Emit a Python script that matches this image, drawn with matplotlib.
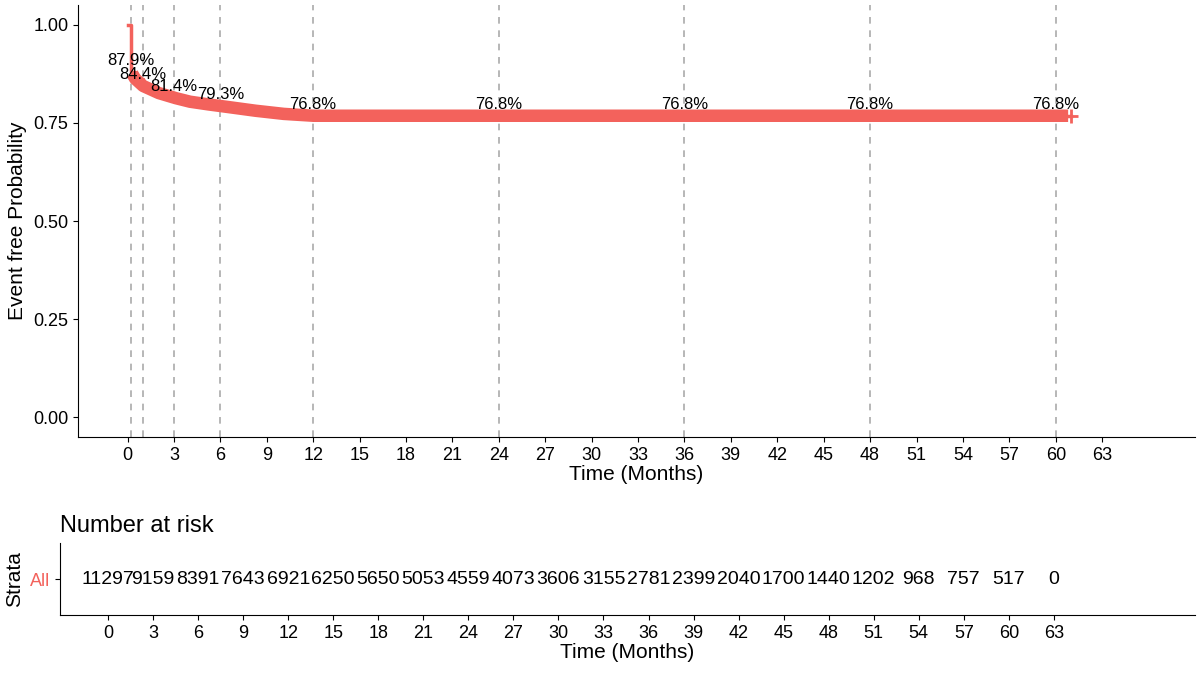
import matplotlib
matplotlib.use("Agg")
import matplotlib.pyplot as plt
import numpy as np

times = [0, 0.25, 0.5, 1, 1.5, 2, 3, 4, 5, 6, 8, 10, 12, 24, 36, 48, 60, 61]
surv = [1.0, 0.879, 0.862, 0.844, 0.835, 0.826, 0.814, 0.804, 0.798, 0.793, 0.782, 0.773, 0.768, 0.768, 0.768, 0.768, 0.768, 0.768]
label_times = [0.25, 1, 3, 6, 12, 24, 36, 48, 60]
label_vals = ["87.9%", "84.4%", "81.4%", "79.3%", "76.8%", "76.8%", "76.8%", "76.8%", "76.8%"]
label_y = [0.879, 0.844, 0.814, 0.793, 0.768, 0.768, 0.768, 0.768, 0.768]
risk_times = list(range(0, 64, 3))
risk_counts = [11297, 9159, 8391, 7643, 6921, 6250, 5650, 5053, 4559, 4073, 3606,
               3155, 2781, 2399, 2040, 1700, 1440, 1202, 968, 757, 517, 0]

red = "#F3625C"
plt.rcParams['font.family'] = ['Liberation Sans', 'DejaVu Sans']
fig = plt.figure(figsize=(12, 6.74), dpi=100)
W, H = 1200, 674
ax = fig.add_axes([78/W, 1-437/H, (1195-78)/W, (437-5)/H])
tt = np.array(times); ss = np.array(surv)
ax.step(tt, ss, where="post", color=red, lw=2.5)
ct = np.linspace(0.3, 60.8, 600)
cs = np.interp(ct, tt, ss)
ax.plot(ct, cs, color=red, lw=9, solid_capstyle="butt")
ax.plot([61], [0.768], marker="+", color=red, ms=10, mew=2)
for t in label_times:
    ax.axvline(t, color="#AAAAAA", ls=(0, (4, 4)), lw=1.2, zorder=0)
for t, s, y in zip(label_times, label_vals, label_y):
    ax.text(t, y + 0.01, s, ha="center", va="bottom", fontsize=12)
ax.set_ylim(-0.05, 1.05)
ax.set_xlim(-3.2, 69)
ax.set_xticks(risk_times)
ax.set_yticks([0, 0.25, 0.5, 0.75, 1.0])
ax.set_yticklabels(["0.00", "0.25", "0.50", "0.75", "1.00"])
ax.set_xlabel("Time (Months)", fontsize=15, labelpad=1)
ax.set_ylabel("Event free Probability", fontsize=15)
ax.tick_params(labelsize=13)
for sp in ["top", "right"]:
    ax.spines[sp].set_visible(False)

ax2 = fig.add_axes([60/W, 1-615/H, (1195-60)/W, (615-543)/H])
for t, c in zip(risk_times, risk_counts):
    ax2.text(t, 0, str(c), ha="center", va="center", fontsize=14)
ax2.set_xlim(-3.2, 72.4)
ax2.set_ylim(-1, 1)
ax2.set_xticks(risk_times)
ax2.set_yticks([0])
ax2.set_yticklabels(["All"], color=red)
ax2.set_ylabel("Strata", fontsize=15)
ax2.set_xlabel("Time (Months)", fontsize=15, labelpad=1)
ax2.tick_params(labelsize=13)
ax2.set_title("Number at risk", loc="left", fontsize=17, x=0.0, pad=8)
for sp in ["top", "right"]:
    ax2.spines[sp].set_visible(False)
fig.savefig("out.png", dpi=100)
